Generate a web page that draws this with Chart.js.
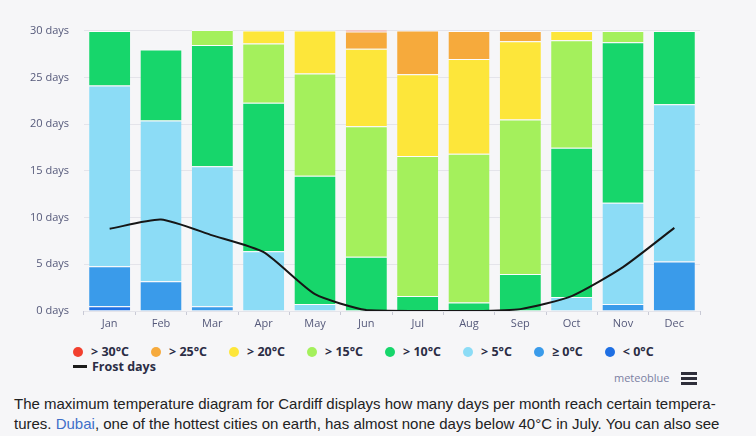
<!DOCTYPE html>
<html>
<head>
<meta charset="utf-8">
<script src="https://cdn.jsdelivr.net/npm/chart.js@4"></script>
<style>
  html, body { margin: 0; padding: 0; background: #f6f6f8; width: 756px; height: 436px; overflow: hidden; font-family: "Open Sans", sans-serif; }
  #wrap { position: absolute; left: 0; top: 0; width: 756px; height: 340px; }
  #legend { position: absolute; left: 73px; top: 344px; color: #2b2d45; font-weight: bold; font-size: 12.5px; }
  #legend .row { display: flex; align-items: center; height: 15px; white-space: nowrap; }
  #legend .item { display: flex; align-items: center; margin-right: 22px; }
  #legend .dot { width: 10px; height: 10px; border-radius: 50%; margin-right: 8px; }
  #legend .dash { width: 14px; height: 2.5px; background: #1b1b1b; margin-right: 5px; }
  #brand { position: absolute; left: 614px; top: 370px; color: #7b80a3; font-size: 11px; }
  #menu { position: absolute; left: 681px; top: 372px; width: 16px; }
  #menu div { height: 2.5px; background: #2e2e3a; margin-bottom: 2.5px; }
  #text { position: absolute; left: 14px; top: 394px; color: #222; font-size: 15px; line-height: 20px; font-family: "Liberation Sans", Arial, sans-serif; white-space: nowrap; }
  #text a { color: #3f6fc9; text-decoration: none; }
</style>
</head>
<body>
<div id="wrap"><canvas id="maxTempChart"></canvas></div>
<div id="legend"></div>
<div id="brand">meteoblue</div>
<div id="menu"><div></div><div></div><div></div></div>
<div id="text">
  <div>The maximum temperature diagram for Cardiff displays how many days per month reach certain tempera-</div>
  <div>tures. <a>Dubai</a>, one of the hottest cities on earth, has almost none days below 40°C in July. You can also see</div>
</div>
<script>
const months = ['Jan', 'Feb', 'Mar', 'Apr', 'May', 'Jun', 'Jul', 'Aug', 'Sep', 'Oct', 'Nov', 'Dec'];

// days per month in each max temperature band
const below0  = [0.5, 0, 0, 0, 0, 0, 0, 0, 0, 0, 0, 0];
const above0  = [4.3, 3.2, 0.5, 0, 0, 0, 0, 0, 0, 0, 0.75, 5.3];
const above5  = [19.35, 17.2, 15.0, 6.4, 0.75, 0, 0, 0, 0, 1.5, 10.85, 16.85];
const above10 = [5.85, 7.6, 13.0, 15.9, 13.75, 5.8, 1.6, 0.9, 3.95, 16.0, 17.2, 7.85];
const above15 = [0, 0, 1.6, 6.35, 10.95, 14.0, 15.0, 15.95, 16.55, 11.5, 1.2, 0];
const above20 = [0, 0, 0, 1.4, 4.6, 8.3, 8.75, 10.15, 8.4, 1.0, 0, 0];
const above25 = [0, 0, 0, 0, 0, 1.85, 4.7, 3.0, 1.1, 0, 0, 0];
const above30 = [0, 0, 0, 0, 0, 0.15, 0, 0, 0, 0, 0, 0];
const frostDays = [8.8, 9.8, 8.1, 6.3, 1.8, 0.1, 0, 0, 0.2, 1.6, 4.7, 8.9];

const yTicks = [0, 5, 10, 15, 20, 25, 30];

// bottom of the stack first
const bands = [
  { label: '< 0°C',  data: below0,  color: '#1f6fe3' },
  { label: '≥ 0°C',  data: above0,  color: '#3a9bea' },
  { label: '> 5°C',  data: above5,  color: '#8cdcf6' },
  { label: '> 10°C', data: above10, color: '#17d66b' },
  { label: '> 15°C', data: above15, color: '#a4f05c' },
  { label: '> 20°C', data: above20, color: '#fde63a' },
  { label: '> 25°C', data: above25, color: '#f6aa3c' },
  { label: '> 30°C', data: above30, color: '#f2402f' }
];

const datasets = [{
  type: 'line',
  label: 'Frost days',
  data: frostDays,
  borderColor: '#161616',
  borderWidth: 2,
  pointRadius: 0,
  tension: 0.2,
  stack: 'frost',
  order: 0
}];

bands.forEach(b => {
  datasets.push({
    type: 'bar',
    label: b.label,
    data: b.data,
    backgroundColor: b.color,
    borderColor: 'rgba(255,255,255,0.75)',
    borderWidth: ctx => (ctx.raw > 0 ? { top: 1, bottom: 0, left: 0, right: 0 } : 0),
    borderSkipped: false,
    barPercentage: 0.8,
    categoryPercentage: 1,
    stack: 'temp',
    order: 1
  });
});

const tickColor = '#55597a';

const chart = new Chart(document.getElementById('maxTempChart').getContext('2d'), {
  data: { labels: months, datasets: datasets },
  options: {
    responsive: true,
    maintainAspectRatio: false,
    animation: false,
    layout: { padding: { left: 28, right: 56, top: 20, bottom: 0 } },
    plugins: { legend: { display: false }, tooltip: { enabled: false } },
    scales: {
      x: {
        stacked: true,
        grid: { drawOnChartArea: false, drawTicks: true, tickLength: 4, color: '#c9cad6' },
        border: { display: false },
        ticks: { color: tickColor, font: { family: 'Open Sans', size: 11 }, padding: 2 },
        afterFit: s => { s.height = 29; }
      },
      y: {
        stacked: true,
        min: 0,
        max: 31,
        grid: { color: '#e4e4ea', drawTicks: false },
        border: { display: false },
        afterBuildTicks: s => { s.ticks = yTicks.map(v => ({ value: v })); },
        ticks: {
          color: tickColor,
          font: { family: 'Open Sans', size: 11 },
          padding: 15,
          callback: v => v + ' days'
        },
        afterFit: s => { s.width = 56; }
      }
    }
  }
});

// legend: temperature bands from hottest, then the frost line on its own row
const legend = document.getElementById('legend');
const row1 = document.createElement('div');
row1.className = 'row';
bands.slice().reverse().forEach(b => {
  const item = document.createElement('div');
  item.className = 'item';
  item.innerHTML = '<span class="dot" style="background:' + b.color + '"></span>' + b.label;
  row1.appendChild(item);
});
const row2 = document.createElement('div');
row2.className = 'row';
row2.innerHTML = '<span class="dash"></span>Frost days';
legend.appendChild(row1);
legend.appendChild(row2);
</script>
</body>
</html>
